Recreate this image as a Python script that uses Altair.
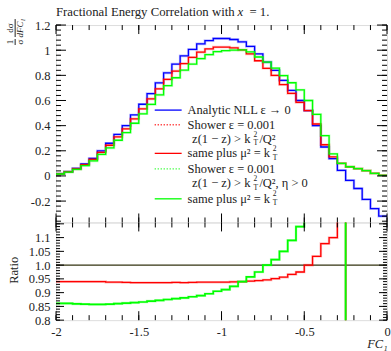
import altair as alt
import numpy as np
import pandas as pd

FONT = "Liberation Serif"
INK = "#222222"

# ---------------- data (bin edges -2 .. 0, width 0.05) ----------------
edges = [round(-2 + 0.05 * k, 2) for k in range(41)]

analytic = [0.018, 0.035, 0.06, 0.095, 0.14, 0.20, 0.26, 0.33, 0.40, 0.485,
            0.57, 0.655, 0.74, 0.82, 0.89, 0.955, 1.006, 1.05, 1.077, 1.093,
            1.093, 1.085, 1.066, 1.03, 0.97, 0.905, 0.84, 0.76, 0.68, 0.60,
            0.52, 0.40, 0.23, 0.137, 0.044, -0.035, -0.10, -0.187, -0.26, -0.32]

shower_mu = [0.017, 0.033, 0.056, 0.089, 0.132, 0.188, 0.244, 0.310, 0.375, 0.454,
             0.534, 0.613, 0.693, 0.768, 0.834, 0.894, 0.943, 0.985, 1.010, 1.025,
             1.025, 1.019, 1.002, 0.970, 0.916, 0.856, 0.799, 0.727, 0.657, 0.585,
             0.52, 0.413, 0.248, 0.151, 0.10, 0.073, 0.058, 0.042, 0.02, 0.005]

shower_eta = [0.0155, 0.030, 0.0515, 0.0815, 0.120, 0.171, 0.223, 0.284, 0.345, 0.419,
              0.494, 0.569, 0.645, 0.7175, 0.781, 0.841, 0.890, 0.933, 0.965, 0.989,
              0.996, 1.001, 1.002, 0.986, 0.946, 0.905, 0.857, 0.798, 0.741, 0.684,
              0.60, 0.49, 0.32, 0.175, 0.10, 0.073, 0.058, 0.042, 0.02, 0.005]

ratio_mu = [0.94, 0.94, 0.94, 0.94, 0.94, 0.94, 0.938, 0.938, 0.937, 0.936,
            0.936, 0.936, 0.936, 0.936, 0.937, 0.936, 0.937, 0.938, 0.938, 0.938,
            0.938, 0.939, 0.94, 0.942, 0.944, 0.946, 0.951, 0.956, 0.966, 0.975,
            1.0, 1.032, 1.078, 1.10, 2.3, -2.1, -0.6, -0.2, -0.1, 0.0]

ratio_eta = [0.861, 0.861, 0.859, 0.858, 0.857, 0.857, 0.858, 0.86, 0.862, 0.864,
             0.866, 0.869, 0.872, 0.875, 0.878, 0.881, 0.885, 0.889, 0.896, 0.905,
             0.911, 0.923, 0.94, 0.957, 0.975, 1.0, 1.02, 1.05, 1.09, 1.14,
             1.2, 1.22, 1.39, 1.28, 2.3, -2.1, -0.58, -0.22, -0.08, 0.0]

x_major = [-2, -1.5, -1, -0.5, 0]
x_minor = [round(-2 + 0.1 * k, 2) for k in range(21)]
y_major = [-0.2, 0, 0.2, 0.4, 0.6, 0.8, 1, 1.2]
y_minor = [round(-0.36 + 0.04 * k, 2) for k in range(40)]
r_major = [0.8, 0.85, 0.9, 0.95, 1.0, 1.05, 1.1, 1.15]
r_labels = [0.8, 0.85, 0.9, 0.95, 1.0, 1.05, 1.1]
r_minor = [round(0.8 + 0.01 * k, 2) for k in range(36)]

W, H1, H2 = 332, 198, 98
XDOM = [-2, 0]
YDOM = [-0.37, 1.2]
RDOM = [0.8, 1.155]


def steps(vals):
    return pd.DataFrame({"x": edges, "v": list(vals) + [vals[-1]]})


xs = alt.Scale(domain=XDOM, nice=False, zero=False)
ys = alt.Scale(domain=YDOM, nice=False, zero=False)
rs = alt.Scale(domain=RDOM, nice=False, zero=False)

lab = dict(labelFont=FONT, labelFontSize=12.5, labelColor=INK, ticks=False,
           domain=False, grid=False, labelFlush=False)
y_axis = alt.Axis(values=y_major, title=None, labelPadding=6,
                  labelExpr="replace(format(datum.value, '.1~f'), '\u2212', '-')", **lab)
r_axis = alt.Axis(values=r_labels, title=None, labelPadding=6,
                  labelExpr="datum.value == 1 ? '1.0' : format(datum.value, '.2~f')", **lab)
x_axis = alt.Axis(values=x_major, title="FC\u2081", titleAnchor="end",
                  titleFont=FONT, titleFontSize=12.5, titleFontStyle="italic",
                  titleFontWeight="normal", titleColor=INK, titlePadding=0,
                  labelPadding=5,
                  labelExpr="replace(format(datum.value, '.1~f'), '\u2212', '-')", **lab)


def one(d):
    return pd.DataFrame({"s": [d]})


def txt(s, x, y, size=12.5, **kw):
    return alt.Chart(one(s)).mark_text(font=FONT, fontSize=size, color=INK,
                                       baseline="middle", **kw).encode(
        x=alt.value(x), y=alt.value(y), text="s:N")


def hrule(x1, x2, y, color, dash=None, width=1.3):
    kw = dict(color=color, strokeWidth=width)
    if dash:
        kw["strokeDash"] = dash
    return alt.Chart(one(0)).mark_rule(**kw).encode(
        x=alt.value(x1), x2=alt.value(x2), y=alt.value(y))


def vrule(x, y1, y2, color=INK, width=1):
    return alt.Chart(one(0)).mark_rule(color=color, strokeWidth=width).encode(
        x=alt.value(x), y=alt.value(y1), y2=alt.value(y2))


def xticks(vals, y1, y2, X):
    return alt.Chart(pd.DataFrame({"t": vals})).mark_rule(color="black", strokeWidth=1).encode(
        x=alt.X("t:Q", scale=xs, axis=X), y=alt.value(y1), y2=alt.value(y2))


def yticks(vals, x1, x2, scale, axis):
    return alt.Chart(pd.DataFrame({"t": vals})).mark_rule(color="black", strokeWidth=1).encode(
        y=alt.Y("t:Q", scale=scale, axis=axis), x=alt.value(x1), x2=alt.value(x2))


def histo(vals, color, scale, axis, X, width=1.3, opacity=1.0):
    return alt.Chart(steps(vals)).mark_line(
        interpolate="step-after", color=color, strokeWidth=width, opacity=opacity,
        clip=True).encode(
        x=alt.X("x:Q", scale=xs, axis=X),
        y=alt.Y("v:Q", scale=scale, axis=axis))


BLUE, RED, GREEN = "#0000ff", "#ff0000", "#00ff00"


def halo(vals, color, scale, axis, X):
    return histo(vals, color, scale, axis, X, width=2.6, opacity=0.25)


# ---------------- main panel ----------------
main_layers = [
    halo(analytic, BLUE, ys, y_axis, None), histo(analytic, BLUE, ys, y_axis, None),
    halo(shower_mu, RED, ys, y_axis, None), histo(shower_mu, RED, ys, y_axis, None),
    halo(shower_eta, GREEN, ys, y_axis, None), histo(shower_eta, GREEN, ys, y_axis, None),
    xticks(x_minor, 0, 5, None), xticks(x_major, 0, 9, None),
    xticks(x_minor, H1, H1 - 5, None), xticks(x_major, H1, H1 - 9, None),
    yticks(y_minor, 0, 5, ys, y_axis), yticks(y_major, 0, 10, ys, y_axis),
    yticks(y_minor, W, W - 5, ys, y_axis), yticks(y_major, W, W - 10, ys, y_axis),
]

# legend
LX1, LX2, TX = 99, 126, 132
rows = [85.3, 100, 114.3, 128.7, 144.3, 158.7, 174.3]
SUP, SUB, SS = -4.5, 4.5, 7.5
main_layers += [
    hrule(LX1, LX2, rows[0], BLUE),
    txt("Analytic NLL \u03b5 \u2192 0", TX, rows[0], align="left"),
    hrule(LX1, LX2, rows[1], RED, dash=[1, 2]),
    txt("Shower \u03b5 = 0.001", TX, rows[1], align="left"),
    txt("z(1 \u2212 z) > k", 195, rows[2], align="right"),
    txt("2", 198, rows[2] + SUP, size=SS, align="left"),
    txt("T", 198, rows[2] + SUB, size=SS, align="left"),
    txt("/Q\u00b2", 204, rows[2], align="left"),
    hrule(LX1, LX2, rows[3], RED),
    txt("same plus \u03bc\u00b2 = k", TX, rows[3], align="left"),
    txt("2", 217.5, rows[3] + SUP, size=SS, align="left"),
    txt("T", 217.5, rows[3] + SUB, size=SS, align="left"),
    hrule(LX1, LX2, rows[4], GREEN, dash=[1, 2]),
    txt("Shower \u03b5 = 0.001", TX, rows[4], align="left"),
    txt("z(1 \u2212 z) > k", 195, rows[5], align="right"),
    txt("2", 198, rows[5] + SUP, size=SS, align="left"),
    txt("T", 198, rows[5] + SUB, size=SS, align="left"),
    txt("/Q\u00b2, \u03b7 > 0", 204, rows[5], align="left"),
    hrule(LX1, LX2, rows[6], GREEN),
    txt("same plus \u03bc\u00b2 = k", TX, rows[6], align="left"),
    txt("2", 217.5, rows[6] + SUP, size=SS, align="left"),
    txt("T", 217.5, rows[6] + SUB, size=SS, align="left"),
]

# title
main_layers += [
    txt("Fractional Energy Correlation with", 0, -13, size=12.8, align="left"),
    txt("x", 182, -13, size=12.8, align="left", fontStyle="italic"),
    txt("= 1.", 194, -13, size=12.8, align="left"),
]

# y title as fraction
main_layers += [
    txt("1", -46, 17, size=9, angle=270),
    txt("\u03c3", -36, 17, size=9, angle=270),
    vrule(-41, 14, 20),
    txt("d\u03c3", -46, 3, size=9, angle=270),
    txt("dFC\u2081", -36, 3, size=9, angle=270, fontStyle="italic"),
    vrule(-41, -6, 12),
]

main = alt.layer(*main_layers).properties(width=W, height=H1)

# ---------------- ratio panel ----------------
ratio_layers = [
    alt.Chart(pd.DataFrame({"v": [1.0]})).mark_rule(color="#333311", strokeWidth=1.2).encode(
        y=alt.Y("v:Q", scale=rs, axis=r_axis)),
    halo(ratio_mu, RED, rs, r_axis, x_axis),
    halo(ratio_eta, GREEN, rs, r_axis, x_axis),
    histo(ratio_mu, RED, rs, r_axis, x_axis),
    histo(ratio_eta, GREEN, rs, r_axis, x_axis, width=1.7),
    xticks(x_minor, 0, 5, x_axis), xticks(x_major, 0, 9, x_axis),
    xticks(x_minor, H2, H2 - 5, x_axis), xticks(x_major, H2, H2 - 9, x_axis),
    yticks(r_minor, 0, 4, rs, r_axis), yticks(r_major, 0, 8, rs, r_axis),
    yticks(r_minor, W, W - 4, rs, r_axis), yticks(r_major, W, W - 8, rs, r_axis),
    txt("Ratio", -42, 48, size=12.5, angle=270),
]
ratio = alt.layer(*ratio_layers).properties(width=W, height=H2)

chart = alt.vconcat(main, ratio, spacing=0, bounds="flush").properties(
    padding={"left": 5.2, "top": 4.6, "right": 0, "bottom": 0}
).configure_view(stroke="black", strokeWidth=1).configure(background="white")

chart.save("out.html", embed_options={"renderer": "svg", "actions": False})
